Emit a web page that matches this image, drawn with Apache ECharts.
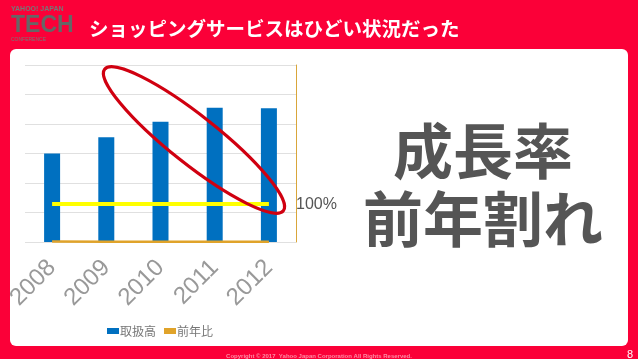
<!DOCTYPE html>
<html><head><meta charset="utf-8">
<script src="https://cdn.jsdelivr.net/npm/echarts@6/dist/echarts.min.js"></script>
<style>html,body{margin:0;padding:0;background:#fb0038;}#c{width:638px;height:359px;}</style>
</head><body><div id="c"></div>
<script>
const categories = ['2008', '2009', '2010', '2011', '2012'];
const salesValues = [3.0, 3.55, 4.08, 4.55, 4.53];
const yoyValues = [1.3, 1.25, 1.2, 1.15, 1.1];
const legendNames = ['取扱高', '前年比'];
const refLineValue = 1.29;
const refLineLabel = '100%';

const chart = echarts.init(document.getElementById('c'), null, {renderer: 'canvas'});
const font = '"Noto Sans CJK JP", "Noto Sans", sans-serif';
chart.setOption({
  backgroundColor: '#fb0038',
  animation: false,
  title: [
    {text: 'ショッピングサービスはひどい状況だった', left: 84, top: 14,
     textStyle: {color: '#fff', fontSize: 19.5, fontWeight: 'bold', fontFamily: font}},
    {text: '成長率\n前年割れ', left: 478, top: 112, textAlign: 'center',
     textStyle: {color: '#555', fontSize: 60, fontWeight: 'bold', lineHeight: 68, fontFamily: font}},
    {text: 'Copyright © 2017  Yahoo Japan Corporation All Rights Reserved.', left: 'center', top: 348,
     textStyle: {color: '#ff8aa3', fontSize: 6, fontFamily: 'Liberation Sans'}},
    {text: '8', left: 622, top: 344, textStyle: {color: '#fff', fontSize: 11, fontWeight: 'normal', fontFamily: 'Liberation Sans'}}
  ],
  graphic: [
    {type: 'rect', z: -10, shape: {x: 10, y: 49, width: 618, height: 297, r: 6}, style: {fill: '#fff'}},
    {type: 'text', z: 5, left: 11, top: 6, style: {text: 'YAHOO! JAPAN', fill: '#777', font: 'bold 7px "Liberation Sans"'}},
    {type: 'text', z: 5, left: 11, top: 14, style: {text: 'TECH', fill: '#666', font: 'bold 23px "Liberation Sans"'}},
    {type: 'text', z: 5, left: 11, top: 37, style: {text: 'CONFERENCE', fill: '#777', font: '5px "Liberation Sans"'}},
    {type: 'ellipse', z: 20, x: 194, y: 140, rotation: -0.67,
     shape: {cx: 0, cy: 0, rx: 114, ry: 24}, style: {fill: 'none', stroke: '#d00010', lineWidth: 3.2}},
    {type: 'text', z: 5, left: 296, top: 197, style: {text: refLineLabel, fill: '#555', font: '16px "Liberation Sans"'}}
  ],
  legend: {
    data: [{name: legendNames[0], icon: 'rect'}, {name: legendNames[1], icon: 'rect'}],
    left: 102, top: 320, itemWidth: 12, itemHeight: 6, itemGap: 8,
    textStyle: {color: '#777', fontSize: 12, fontFamily: font, padding: [0, 0, 0, -4]}
  },
  grid: {left: 25, right: 342, top: 65, bottom: 117},
  xAxis: {
    type: 'category', data: categories,
    axisLine: {show: false}, axisTick: {show: false},
    axisLabel: {rotate: 45, color: '#999', fontSize: 24, fontFamily: 'Liberation Sans', margin: 22}
  },
  yAxis: [
    {type: 'value', min: 0, max: 6, interval: 1,
     axisLabel: {show: false}, axisLine: {show: false}, axisTick: {show: false},
     splitLine: {lineStyle: {color: '#e0e0e0', width: 1}}},
    {type: 'value', min: 0, max: 600, position: 'right',
     axisLabel: {show: false}, axisTick: {show: false}, splitLine: {show: false},
     axisLine: {show: true, lineStyle: {color: '#d9a63a', width: 1}}}
  ],
  series: [
    {name: legendNames[0], type: 'bar', data: salesValues, barWidth: 16, itemStyle: {color: '#0070c0'},
     markLine: {silent: true, symbol: 'none', z: 10,
       lineStyle: {color: '#ffff00', width: 4, type: 'solid'},
       label: {show: false},
       data: [[{coord: [-0.39, refLineValue]}, {coord: [4.3, refLineValue]}]]}},
    {name: legendNames[1], type: 'line', yAxisIndex: 1, data: yoyValues, symbol: 'none',
     lineStyle: {color: '#e0a32a', width: 2.5}, itemStyle: {color: '#e0a32a'}}
  ]
});
</script>
</body></html>
